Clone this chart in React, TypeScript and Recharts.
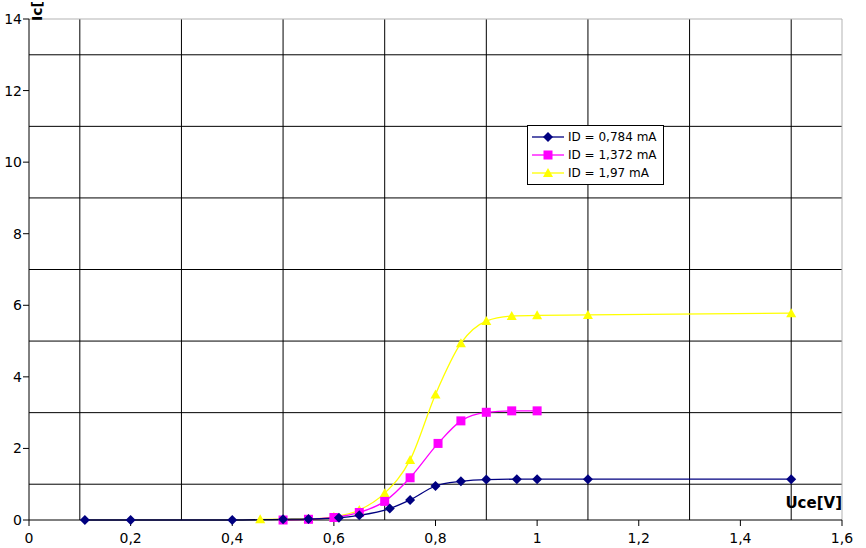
import React from 'react';
import { LineChart, Line, XAxis, YAxis, ReferenceLine, Label } from 'recharts';

// ID = 0,784 mA
const blueX = [0.11, 0.2, 0.4, 0.5, 0.55, 0.61, 0.65, 0.71, 0.75, 0.8, 0.85, 0.9, 0.96, 1.0, 1.1, 1.5];
const blueY = [0, 0, 0, 0.02, 0.03, 0.06, 0.13, 0.32, 0.56, 0.95, 1.08, 1.13, 1.14, 1.14, 1.14, 1.14];

// ID = 1,372 mA
const pinkX = [0.5, 0.55, 0.6, 0.65, 0.7, 0.75, 0.805, 0.85, 0.9, 0.95, 1.0];
const pinkY = [0, 0.02, 0.07, 0.21, 0.52, 1.18, 2.14, 2.77, 3.01, 3.05, 3.05];

// ID = 1,97 mA
const yellowX = [0.455, 0.55, 0.6, 0.65, 0.7, 0.75, 0.8, 0.85, 0.9, 0.95, 1.0, 1.1, 1.5];
const yellowY = [0.02, 0.03, 0.09, 0.28, 0.75, 1.68, 3.51, 4.94, 5.56, 5.7, 5.72, 5.73, 5.78];

const xTicks = [0, 0.2, 0.4, 0.6, 0.8, 1.0, 1.2, 1.4, 1.6];
const yTicks = [0, 2, 4, 6, 8, 10, 12, 14];
const xGrid = [0.1, 0.3, 0.5, 0.7, 0.9, 1.1, 1.3, 1.5];
const yGrid = [1, 3, 5, 7, 9, 11, 13];

const seriesNames = ['ID = 0,784 mA', 'ID = 1,372 mA', 'ID = 1,97 mA'];
const seriesColors = ['#000080', '#ff00ff', '#ffff00'];

const toPoints = (xs: number[], ys: number[]) => xs.map((x, i) => ({ x, y: ys[i] }));
const blueData = toPoints(blueX, blueY);
const pinkData = toPoints(pinkX, pinkY);
const yellowData = toPoints(yellowX, yellowY);

const font = 'DejaVu Sans, sans-serif';

function Marker({ kind, cx, cy, color }: { kind: number; cx: number; cy: number; color: string }) {
  if (kind === 0) {
    const r = 5;
    return <polygon points={`${cx},${cy - r} ${cx + r},${cy} ${cx},${cy + r} ${cx - r},${cy}`} fill={color} />;
  }
  if (kind === 1) {
    return <rect x={cx - 4.5} y={cy - 4.5} width={9} height={9} fill={color} />;
  }
  return <polygon points={`${cx},${cy - 5} ${cx + 5},${cy + 4} ${cx - 5},${cy + 4}`} fill={color} />;
}

const makeDot = (kind: number) => (props: any) => (
  <Marker key={`d${kind}-${props.index}`} kind={kind} cx={props.cx} cy={props.cy} color={seriesColors[kind]} />
);

const fmt = (v: number) => String(Number(v.toFixed(1))).replace('.', ',');

function LegendBox() {
  return (
    <div
      style={{
        position: 'absolute',
        left: 527,
        top: 125,
        border: '1px solid #000',
        background: '#fff',
        padding: '2px 6px 2px 3px',
        fontFamily: font,
        fontSize: 12,
        lineHeight: '18px',
        color: '#000',
      }}
    >
      {seriesNames.map((name, i) => (
        <div key={name} style={{ display: 'flex', alignItems: 'center' }}>
          <svg width={34} height={18} style={{ marginRight: 3 }}>
            <line x1={1} y1={9} x2={33} y2={9} stroke={seriesColors[i]} strokeWidth={1.3} />
            <Marker kind={i} cx={17} cy={9} color={seriesColors[i]} />
          </svg>
          <span style={{ whiteSpace: 'nowrap' }}>{name}</span>
        </div>
      ))}
    </div>
  );
}

// the y title runs off the top of the picture, as in the original
const YTitle = () => (
  <text
    x={42}
    y={21}
    transform="rotate(-90, 42, 21)"
    fontFamily={font}
    fontSize={14}
    fontWeight="bold"
    fill="#000"
  >
    Ic[mA]
  </text>
);

const XTitle = () => (
  <text x={842} y={508} textAnchor="end" fontFamily={font} fontSize={15} fontWeight="bold" fill="#000">
    Uce[V]
  </text>
);

export default function App() {
  return (
    <div style={{ position: 'relative', width: 866, height: 548, background: '#fff', overflow: 'hidden' }}>
      <style>{'body{margin:0}'}</style>
      <LineChart width={866} height={548} margin={{ top: 19, right: 24, bottom: 0, left: 0 }}>
        <XAxis
          type="number"
          dataKey="x"
          domain={[0, 1.6]}
          ticks={xTicks}
          tickFormatter={fmt}
          allowDataOverflow
          height={28}
          tickSize={6}
          tickMargin={7}
          stroke="#000"
          tick={{ fill: '#000', fontSize: 14, fontFamily: font }}
        >
          <Label content={<XTitle />} />
        </XAxis>
        <YAxis
          type="number"
          dataKey="y"
          domain={[0, 14]}
          ticks={yTicks}
          width={29}
          tickSize={6}
          tickMargin={1}
          stroke="#000"
          tick={{ fill: '#000', fontSize: 14, fontFamily: font }}
        >
          <Label content={<YTitle />} />
        </YAxis>
        {xGrid.map((v) => (
          <ReferenceLine key={`gx${v}`} x={v} stroke="#000" strokeWidth={1} />
        ))}
        {yGrid.map((v) => (
          <ReferenceLine key={`gy${v}`} y={v} stroke="#000" strokeWidth={1} />
        ))}
        <ReferenceLine y={14} stroke="#b3b3b3" />
        <ReferenceLine x={1.6} stroke="#b3b3b3" />
        <Line
          data={yellowData}
          dataKey="y"
          type="monotone"
          stroke={seriesColors[2]}
          strokeWidth={1.3}
          dot={makeDot(2)}
          activeDot={false}
          isAnimationActive={false}
        />
        <Line
          data={pinkData}
          dataKey="y"
          type="monotone"
          stroke={seriesColors[1]}
          strokeWidth={1.3}
          dot={makeDot(1)}
          activeDot={false}
          isAnimationActive={false}
        />
        <Line
          data={blueData}
          dataKey="y"
          type="monotone"
          stroke={seriesColors[0]}
          strokeWidth={1.3}
          dot={makeDot(0)}
          activeDot={false}
          isAnimationActive={false}
        />
      </LineChart>
      <LegendBox />
    </div>
  );
}
